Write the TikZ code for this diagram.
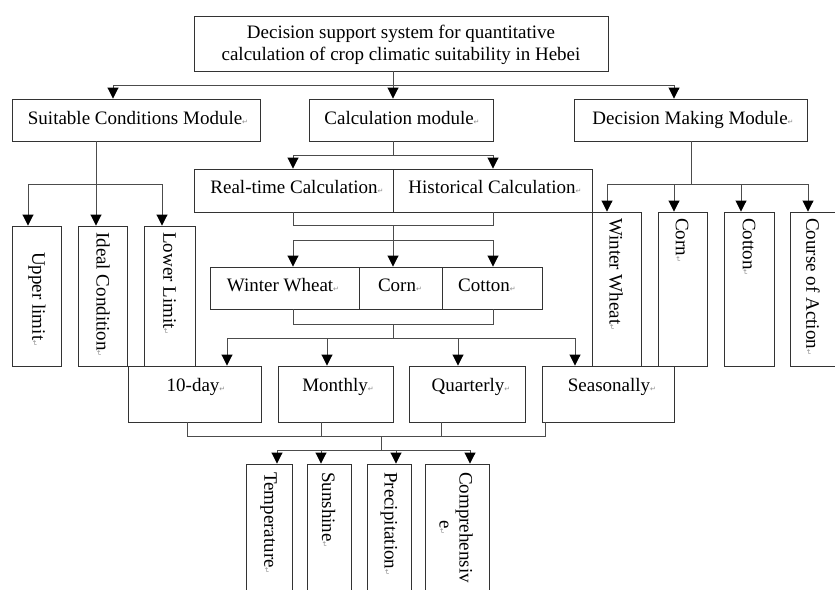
\documentclass[tikz,border=0pt]{standalone}
\usepackage{fontspec}
\setmainfont{Liberation Serif}
\newfontfamily\symfont{DejaVu Sans}
\usetikzlibrary{arrows.meta}
\newcommand{\rmk}{{\symfont\fontsize{7}{7}\selectfont\color{black!45}↵}}
\newcommand{\mkbox}[5]{\node[bx, minimum width={#4-#2}, minimum height={#5-#3}] (#1) at ({(#2+#4)/2},{(#3+#5)/2}) {};}
\begin{document}
\begin{tikzpicture}[x=1pt,y=-1pt,
  bx/.style={draw=black!80, line width=0.9pt, inner sep=0pt, rectangle},
  txt/.style={font=\fontsize{19}{22}\selectfont, inner sep=0pt},
  vtxt/.style={txt, rotate=-90, anchor=west},
  ln/.style={draw=black!70, line width=0.9pt},
  arr/.style={ln, -{Triangle[width=11pt,length=11pt,color=black]}},
]
\clip (0,0) rectangle (835,589);
\fill[white] (0,0) rectangle (835,589);
% boxes
\mkbox{top}{194}{16}{608}{71}
\mkbox{suit}{12}{99}{260}{141}
\mkbox{calc}{309}{99}{493}{141}
\mkbox{dec}{574}{99}{807}{141}
\mkbox{ul}{12}{226}{61}{366}
\mkbox{ic}{78}{226}{127}{366}
\mkbox{ll}{144}{226}{195}{366}
\mkbox{rt}{194}{169}{393}{212}
\mkbox{hist}{393}{169}{592}{212}
\mkbox{cww}{210}{267}{359}{309}
\mkbox{ccorn}{359}{267}{442}{309}
\mkbox{ccot}{442}{267}{542}{309}
\mkbox{pten}{128}{366}{261}{422}
\mkbox{pmon}{278}{366}{393}{422}
\mkbox{pqua}{409}{366}{525}{422}
\mkbox{psea}{542}{366}{674}{422}
\mkbox{dww}{592}{212}{641}{366}
\mkbox{dcorn}{658}{212}{707}{366}
\mkbox{dcot}{724}{212}{774}{366}
\mkbox{dcoa}{790}{212}{840}{366}
\mkbox{etemp}{246}{464}{292}{600}
\mkbox{esun}{307}{464}{351}{600}
\mkbox{eprec}{367}{464}{411}{600}
\mkbox{ecomp}{425}{464}{489}{600}
% texts
\node[txt, align=center] (ttop) at (401,45) {Decision support system for quantitative\\calculation of crop climatic suitability in Hebei};
\node[txt, anchor=base] (tsuit) at (138,124) {Suitable Conditions Module\rmk};
\node[txt, anchor=base] (tcalc) at (402,124) {Calculation module\rmk};
\node[txt, anchor=base] (tdec) at (693,124) {Decision Making Module\rmk};
\node[txt, anchor=base] (trt) at (297,193) {Real-time Calculation\rmk};
\node[txt, anchor=base] (thist) at (495,193) {Historical Calculation\rmk};
\node[txt, anchor=base] (tcww) at (283,291) {Winter Wheat\rmk};
\node[txt, anchor=base] (tccorn) at (400,291) {Corn\rmk};
\node[txt, anchor=base] (tccot) at (487,291) {Cotton\rmk};
\node[txt, anchor=base] (tpten) at (196,391) {10-day\rmk};
\node[txt, anchor=base] (tpmon) at (338,391) {Monthly\rmk};
\node[txt, anchor=base] (tpqua) at (471,391) {Quarterly\rmk};
\node[txt, anchor=base] (tpsea) at (612,391) {Seasonally\rmk};
\node[vtxt] (tul) at (37,252) {Upper limit\rmk};
\node[vtxt] (tic) at (103,232) {Ideal Condition\rmk};
\node[vtxt] (tll) at (169.5,232) {Lower Limit\rmk};
\node[vtxt] (tdww) at (616,218) {Winter Wheat\rmk};
\node[vtxt] (tdcorn) at (682,218) {Corn\rmk};
\node[vtxt] (tdcot) at (749,218) {Cotton\rmk};
\node[vtxt] (tdcoa) at (813,218) {Course of Action\rmk};
\node[vtxt] (tetemp) at (268.5,472) {Temperature\rmk};
\node[vtxt] (tesun) at (328.5,472) {Sunshine\rmk};
\node[vtxt] (teprec) at (389,472) {Precipitation\rmk};
\node[vtxt, align=center, font=\fontsize{19}{20}\selectfont] (tecomp) at (456,472) {Comprehensiv\\e\rmk};
% level 1 connectors
\coordinate (a1) at (113,85); \coordinate (a2) at (393,85); \coordinate (a3) at (674,85);
\draw[ln] (top.south -| a2) -- (a2);
\draw[ln] (a1) -- (a3);
\draw[arr] (a1) -- (a1 |- suit.north);
\draw[arr] (a2) -- (a2 |- calc.north);
\draw[arr] (a3) -- (a3 |- dec.north);
% suitable
\coordinate (s0) at (96,184); \coordinate (s1) at (28,184); \coordinate (s3) at (162,184);
\draw[ln] (suit.south -| s0) -- (s0);
\draw[ln] (s1) -- (s3);
\draw[arr] (s1) -- (s1 |- ul.north);
\draw[arr] (s0) -- (s0 |- ic.north);
\draw[arr] (s3) -- (s3 |- ll.north);
% calculation
\coordinate (c0) at (393,155); \coordinate (c1) at (293,155); \coordinate (c2) at (493,155);
\draw[ln] (calc.south -| c0) -- (c0);
\draw[ln] (c1) -- (c2);
\draw[arr] (c1) -- (c1 |- rt.north);
\draw[arr] (c2) -- (c2 |- hist.north);
% realtime/historical to crops
\coordinate (r1) at (293,225); \coordinate (r2) at (493,225); \coordinate (r0) at (393,225);
\draw[ln] (rt.south -| r1) -- (r1) -- (r2) -- (r2 |- hist.south);
\coordinate (k0) at (393,240); \coordinate (k1) at (293,240); \coordinate (k2) at (493,240);
\draw[ln] (r0) -- (k0);
\draw[ln] (k1) -- (k2);
\draw[arr] (k1) -- (k1 |- cww.north);
\draw[arr] (k0) -- (k0 |- ccorn.north);
\draw[arr] (k2) -- (k2 |- ccot.north);
% crops to periods
\coordinate (m1) at (293,324); \coordinate (m2) at (493,324); \coordinate (m0) at (393,324);
\draw[ln] (cww.south -| m1) -- (m1) -- (m2) -- (m2 |- ccot.south);
\coordinate (q0) at (393,338); \coordinate (q1) at (227,338); \coordinate (q2) at (327,338);
\coordinate (q3) at (458,338); \coordinate (q4) at (575,338);
\draw[ln] (m0) -- (q0);
\draw[ln] (q1) -- (q4);
\draw[arr] (q1) -- (q1 |- pten.north);
\draw[arr] (q2) -- (q2 |- pmon.north);
\draw[arr] (q3) -- (q3 |- pqua.north);
\draw[arr] (q4) -- (q4 |- psea.north);
% decision
\coordinate (d0) at (691,184); \coordinate (d1) at (607,184); \coordinate (d2) at (674,184);
\coordinate (d3) at (741,184); \coordinate (d4) at (808,184);
\draw[ln] (dec.south -| d0) -- (d0);
\draw[ln] (d1) -- (d4);
\draw[arr] (d1) -- (d1 |- dww.north);
\draw[arr] (d2) -- (d2 |- dcorn.north);
\draw[arr] (d3) -- (d3 |- dcot.north);
\draw[arr] (d4) -- (d4 |- dcoa.north);
% periods to elements
\coordinate (g1) at (187,436); \coordinate (g2) at (321,436); \coordinate (g3) at (441,436);
\coordinate (g4) at (545,436); \coordinate (g0) at (381,436);
\draw[ln] (pten.south -| g1) -- (g1) -- (g4) -- (g4 |- psea.south);
\draw[ln] (pmon.south -| g2) -- (g2);
\draw[ln] (pqua.south -| g3) -- (g3);
\coordinate (e0) at (381,450); \coordinate (e1) at (277,450); \coordinate (e2) at (321,450);
\coordinate (e3) at (396,450); \coordinate (e4) at (470,450);
\draw[ln] (g0) -- (e0);
\draw[ln] (e1) -- (e4);
\draw[arr] (e1) -- (e1 |- etemp.north);
\draw[arr] (e2) -- (e2 |- esun.north);
\draw[arr] (e3) -- (e3 |- eprec.north);
\draw[arr] (e4) -- (e4 |- ecomp.north);
\end{tikzpicture}
\end{document}
